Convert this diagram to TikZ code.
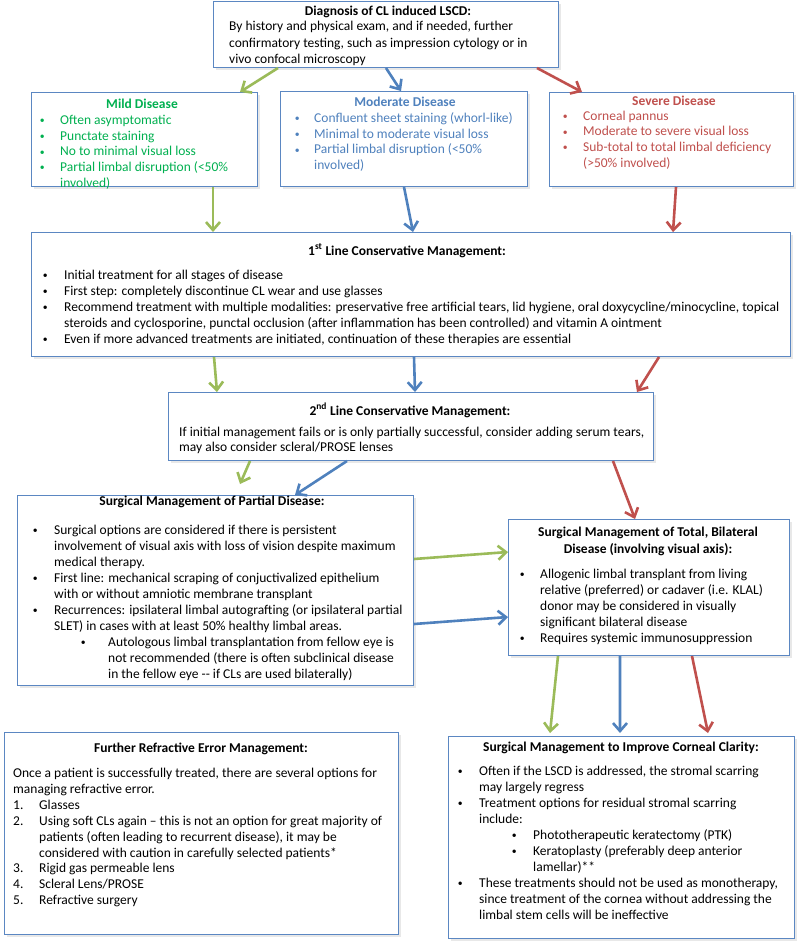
\documentclass[tikz,border=0pt]{standalone}
\usepackage{fontspec}
\setmainfont{Carlito}
\usetikzlibrary{arrows.meta,shadows,calc}
\definecolor{gA}{HTML}{9BBB59}
\definecolor{bA}{HTML}{4F81BD}
\definecolor{rA}{HTML}{C0504D}
\definecolor{gT}{HTML}{00B050}
\definecolor{frameblue}{HTML}{5B87C2}
\newcommand{\bu}[1]{\llap{\makebox[0pt][c]{\raisebox{0.8bp}{\scalebox{0.72}{\textbullet}}}\hspace{#1bp}}}
\newcommand{\fs}{\rule{0pt}{11bp}}
\begin{document}
\begin{tikzpicture}[x=1bp,y=-1bp,
  box/.style={draw=frameblue, line width=1bp, fill=white, rectangle, inner sep=0pt, anchor=north west,
    drop shadow={opacity=0.18, shadow xshift=2bp, shadow yshift=-2bp}},
  txt/.style={inner sep=0pt, anchor=north west, align=left, font=\fontsize{13.5bp}{16bp}\selectfont},
  ttl/.style={inner sep=0pt, anchor=base, font=\fontsize{13.5bp}{16bp}\selectfont\bfseries},
  arr/.style={line width=2.6bp, -{Straight Barb[length=8bp,width=14bp]}}]
\fill[white] (0,0) rectangle (800,946);
\useasboundingbox (0,0) rectangle (800,946);

% boxes
\node[box, minimum width=345bp, minimum height=66bp] (top) at (213,1) {};
\node[box, minimum width=226bp, minimum height=94bp] (mild) at (31,92) {};
\node[box, minimum width=247bp, minimum height=95bp] (moderate) at (280,91) {};
\node[box, minimum width=244bp, minimum height=94bp] (severe) at (549,92) {};
\node[box, minimum width=759bp, minimum height=124bp] (first) at (31,232) {};
\node[box, minimum width=485bp, minimum height=68bp] (second) at (168,392) {};
\node[box, minimum width=396bp, minimum height=190bp] (partial) at (17,495) {};
\node[box, minimum width=281bp, minimum height=136bp] (total) at (508,519) {};
\node[box, minimum width=394bp, minimum height=202bp] (refr) at (4,732) {};
\node[box, minimum width=346bp, minimum height=202bp] (clarity) at (448,736) {};

% top
\node[ttl] (top-t) at (388,15.5) {Diagnosis of CL induced LSCD:};
\node[txt, font=\fontsize{13.5bp}{16.5bp}\selectfont] (top-b) at (229,19.5) {\fs By history and physical exam, and if needed, further\\
confirmatory testing, such as impression cytology or in\\
vivo confocal microscopy};

% mild
\node[ttl, text=gT] (mild-t) at (142,108.3) {Mild Disease};
\node[txt, text=gT, font=\fontsize{13.5bp}{15.7bp}\selectfont] (mild-b) at (60,113.3) {\fs\bu{18}Often asymptomatic\\
\bu{18}Punctate staining\\
\bu{18}No to minimal visual loss\\
\bu{18}Partial limbal disruption (<50\%\\
involved)};

% moderate
\node[ttl, text=bA] (moderate-t) at (405,106) {Moderate Disease};
\node[txt, text=bA, font=\fontsize{13.5bp}{15.7bp}\selectfont] (moderate-b) at (314,111.3) {\fs\bu{17}Confluent sheet staining (whorl-like)\\
\bu{17}Minimal to moderate visual loss\\
\bu{17}Partial limbal disruption (<50\%\\
involved)};

% severe
\node[ttl, text=rA] (severe-t) at (674,105) {Severe Disease};
\node[txt, text=rA, font=\fontsize{13.5bp}{15.7bp}\selectfont] (severe-b) at (583,109) {\fs\bu{18}Corneal pannus\\
\bu{18}Moderate to severe visual loss\\
\bu{18}Sub-total to total limbal deficiency\\
(>50\% involved)};

% first line
\node[ttl] (first-t) at (407,255) {1\textsuperscript{st} Line Conservative Management:};
\node[txt] (first-b) at (64,268) {\fs\bu{19}Initial treatment for all stages of disease\\
\bu{19}First step: completely discontinue CL wear and use glasses\\
\bu{19}Recommend treatment with multiple modalities: preservative free artificial tears, lid hygiene, oral doxycycline/minocycline, topical\\
steroids and cyclosporine, punctal occlusion (after inflammation has been controlled) and vitamin A ointment\\
\bu{19}Even if more advanced treatments are initiated, continuation of these therapies are essential};

% second line
\node[ttl] (second-t) at (410,415) {2\textsuperscript{nd} Line Conservative Management:};
\node[txt, font=\fontsize{13.5bp}{14.2bp}\selectfont] (second-b) at (179,425.7) {\fs If initial management fails or is only partially successful, consider adding serum tears,\\
may also consider scleral/PROSE lenses};

% partial
\node[ttl] (partial-t) at (212,505) {Surgical Management of Partial Disease:};
\node[txt] (partial-b) at (54,523) {\fs\bu{19}Surgical options are considered if there is persistent\\
involvement of visual axis with loss of vision despite maximum\\
medical therapy.\\
\bu{19}First line: mechanical scraping of conjuctivalized epithelium\\
with or without amniotic membrane transplant\\
\bu{19}Recurrences: ipsilateral limbal autografting (or ipsilateral partial\\
SLET) in cases with at least 50\% healthy limbal areas.\\
\hspace*{54bp}\bu{25}Autologous limbal transplantation from fellow eye is\\
\hspace*{54bp}not recommended (there is often subclinical disease\\
\hspace*{54bp}in the fellow eye -{}- if CLs are used bilaterally)};

% total
\node[inner sep=0pt, anchor=north, align=center, font=\fontsize{13.5bp}{16.6bp}\selectfont\bfseries] (total-t) at (648,525.7) {\fs Surgical Management of Total, Bilateral\\
Disease (involving visual axis):};
\node[txt] (total-b) at (540,567.3) {\fs\bu{18}Allogenic limbal transplant from living\\
relative (preferred) or cadaver (i.e. KLAL)\\
donor may be considered in visually\\
significant bilateral disease\\
\bu{18}Requires systemic immunosuppression};

% refractive
\node[ttl] (refr-t) at (201,752.7) {Further Refractive Error Management:};
\node[txt, font=\fontsize{13.5bp}{15.9bp}\selectfont] (refr-b) at (13,766.3) {\fs Once a patient is successfully treated, there are several options for\\
managing refractive error.\\
\makebox[26bp][l]{1.}Glasses\\
\makebox[26bp][l]{2.}Using soft CLs again \textendash{} this is not an option for great majority of\\
\hspace*{26bp}patients (often leading to recurrent disease), it may be\\
\hspace*{26bp}considered with caution in carefully selected patients*\\
\makebox[26bp][l]{3.}Rigid gas permeable lens\\
\makebox[26bp][l]{4.}Scleral Lens/PROSE\\
\makebox[26bp][l]{5.}Refractive surgery};

% clarity
\node[ttl] (clarity-t) at (621,751.7) {Surgical Management to Improve Corneal Clarity:};
\node[txt] (clarity-b) at (479,764) {\fs\bu{19}Often if the LSCD is addressed, the stromal scarring\\
may largely regress\\
\bu{19}Treatment options for residual stromal scarring\\
include:\\
\hspace*{54bp}\bu{19}Phototherapeutic keratectomy (PTK)\\
\hspace*{54bp}\bu{19}Keratoplasty (preferably deep anterior\\
\hspace*{54bp}lamellar)**\\
\bu{19}These treatments should not be used as monotherapy,\\
since treatment of the cornea without addressing the\\
limbal stem cells will be ineffective};

% arrows
\draw[arr,gA] ([xshift=65bp]top.south west) -- ([xshift=209bp]mild.north west);
\draw[arr,bA] ([xshift=173bp]top.south west) -- ([xshift=121bp]moderate.north west);
\draw[arr,rA] ([xshift=324bp]top.south west) -- ([xshift=33bp]severe.north west);

\draw[arr,gA] ([xshift=182bp]mild.south west) -- ([xshift=182bp]first.north west);
\draw[arr,bA] ([xshift=124bp]moderate.south west) -- ([xshift=382bp]first.north west);
\draw[arr,rA] ([xshift=127bp]severe.south west) -- ([xshift=642bp]first.north west);

\draw[arr,gA] ([xshift=183bp]first.south west) -- ([xshift=49bp]second.north west);
\draw[arr,bA] ([xshift=383bp]first.south west) -- ([xshift=247bp]second.north west);
\draw[arr,rA] ([xshift=628bp]first.south west) -- ([xshift=469bp]second.north west);

\draw[arr,gA] ([xshift=82bp]second.south west) -- ([xshift=223bp,yshift=11bp]partial.north west);
\draw[arr,bA] ([xshift=179bp]second.south west) -- ([xshift=278bp]partial.north west);
\draw[arr,rA] ([xshift=445bp]second.south west) -- ([xshift=127bp]total.north west);

\draw[arr,gA] ([yshift=-64bp]partial.north east) -- ([yshift=-33bp]total.north west);
\draw[arr,bA] ([yshift=-129bp]partial.north east) -- ([yshift=-98bp]total.north west);

\draw[arr,gA] ([xshift=50bp]total.south west) -- ([xshift=102bp,yshift=3bp]clarity.north west);
\draw[arr,bA] ([xshift=112bp]total.south west) -- ([xshift=172bp,yshift=3bp]clarity.north west);
\draw[arr,rA] ([xshift=184bp]total.south west) -- ([xshift=260bp,yshift=3bp]clarity.north west);
\end{tikzpicture}
\end{document}
